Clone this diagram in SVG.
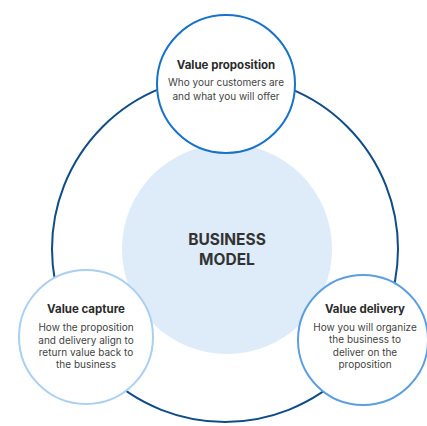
<svg xmlns="http://www.w3.org/2000/svg" width="427" height="426" viewBox="0 0 427 426">
<style>
.t{font-family:Inter,"Liberation Sans",sans-serif;font-size:11.5px;font-weight:700;fill:#2b2b2b;text-anchor:middle}
.b{font-family:Inter,"Liberation Sans",sans-serif;font-size:10px;fill:#444;text-anchor:middle}
.c{font-family:Inter,"Liberation Sans",sans-serif;font-size:15.5px;font-weight:700;fill:#333;text-anchor:middle}
.n{fill:#fff;stroke-width:2}
</style>
<rect width="427" height="426" fill="#fff"/>
<g id="connectors">
<circle cx="225" cy="249" r="173" fill="none" stroke="#0f4c88" stroke-width="2"/>
</g>
<g id="center">
<circle cx="227" cy="249" r="105" fill="#deebf8"/>
<text class="c" x="227" y="244.5">BUSINESS</text>
<text class="c" x="227" y="264.5">MODEL</text>
</g>
<g id="value-proposition">
<circle class="n" cx="226" cy="84" r="69" stroke="#1872cc" stroke-width="2.5"/>
<text class="t" x="226" y="69">Value proposition</text>
<text class="b" x="226" y="85.5">Who your customers are</text>
<text class="b" x="226" y="99.5">and what you will offer</text>
</g>
<g id="value-capture">
<circle class="n" cx="86" cy="337" r="67" stroke="#aacff2"/>
<text class="t" x="86" y="313">Value capture</text>
<text class="b" x="86" y="330.5">How the proposition</text>
<text class="b" x="86" y="343.5">and delivery align to</text>
<text class="b" x="86" y="355.5">return value back to</text>
<text class="b" x="86" y="367.5">the business</text>
</g>
<g id="value-delivery">
<circle class="n" cx="363" cy="340" r="65" stroke="#5b9fe2"/>
<text class="t" x="365" y="313">Value delivery</text>
<text class="b" x="365" y="330.5">How you will organize</text>
<text class="b" x="365" y="343">the business to</text>
<text class="b" x="365" y="355.5">deliver on the</text>
<text class="b" x="365" y="367.5">proposition</text>
</g>
</svg>
